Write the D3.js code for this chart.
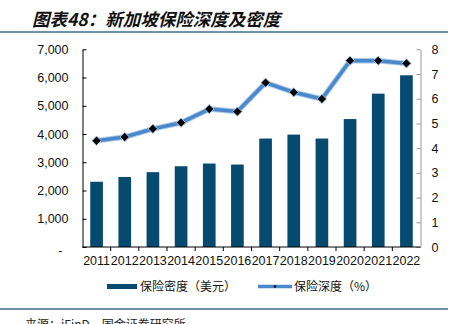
<!DOCTYPE html>
<html><head><meta charset="utf-8">
<script src="https://cdn.jsdelivr.net/npm/d3@7"></script>
<style>body{margin:0;background:#fff}svg{display:block}</style>
</head><body>
<script>
const years = ["2011","2012","2013","2014","2015","2016","2017","2018","2019","2020","2021","2022"];
const density = [2310, 2480, 2650, 2860, 2955, 2920, 3840, 3980, 3840, 4530, 5430, 6080];
const depth = [4.30, 4.45, 4.78, 5.03, 5.58, 5.48, 6.65, 6.26, 5.99, 7.54, 7.54, 7.43];
const leftTicks = [0, 1000, 2000, 3000, 4000, 5000, 6000, 7000];
const rightTicks = [0, 1, 2, 3, 4, 5, 6, 7, 8];
const title = "图表48：新加坡保险深度及密度";
const source = "来源：iFinD，国金证券研究所";
const legendNames = ["保险密度（美元）", "保险深度（%）"];

const W = 460, H = 324;
const svg = d3.select("body").append("svg").attr("width", W).attr("height", H);
const font = "'Liberation Sans', Arial, sans-serif";
const cjk = "'Noto Sans CJK SC', sans-serif";
const barColor = "#074a70", lineColor = "#4a88cc", ruleColor = "#3b6f8e";

// title and rules
svg.append("text").attr("x", 32).attr("y", 26).attr("font-family", cjk)
  .attr("font-size", 17.5).attr("font-weight", "bold").attr("font-style", "italic")
  .attr("fill", "#111").text(title);
svg.append("line").attr("x1", 0).attr("x2", 448).attr("y1", 32).attr("y2", 32)
  .attr("stroke", ruleColor).attr("stroke-width", 1.5);
svg.append("line").attr("x1", 0).attr("x2", 448).attr("y1", 309).attr("y2", 309)
  .attr("stroke", ruleColor).attr("stroke-width", 1.5);
svg.append("text").attr("x", 25).attr("y", 329).attr("font-family", cjk)
  .attr("font-size", 12).attr("fill", "#222").text(source);

const x0 = 82.5, x1 = 420.5, yTop = 49.3, yBot = 247;
const x = d3.scaleBand().domain(years).range([x0, x1]).paddingInner(0.55).paddingOuter(0.275);
const yL = d3.scaleLinear().domain([0, 7000]).range([yBot, yTop]);
const yR = d3.scaleLinear().domain([0, 8]).range([yBot, yTop]);

// bars
svg.append("g").selectAll("rect").data(years).join("rect")
  .attr("x", d => x(d)).attr("width", x.bandwidth())
  .attr("y", (d, i) => yL(density[i])).attr("height", (d, i) => yBot - yL(density[i]))
  .attr("fill", barColor);

// left axis
const gL = svg.append("g").attr("transform", `translate(${x0},0)`)
  .call(d3.axisLeft(yL).tickValues(leftTicks).tickSizeInner(-4).tickSizeOuter(0)
    .tickPadding(14).tickFormat(d => d === 0 ? "-" : d3.format(",")(d)));
gL.select(".domain").attr("stroke", "#000");
gL.selectAll(".tick line").attr("stroke", "#000");
gL.selectAll("text").attr("font-family", font).attr("font-size", 12.5).attr("fill", "#111");
gL.selectAll(".tick").filter(d => d === 0).select("text").attr("dx", -6).attr("dy", "0.6em");

// right axis
const gR = svg.append("g").attr("transform", `translate(${x1},0)`)
  .call(d3.axisRight(yR).tickValues(rightTicks).tickSizeInner(-4).tickSizeOuter(0).tickPadding(11));
gR.select(".domain").attr("stroke", "#999");
gR.selectAll(".tick line").attr("stroke", "#999");
gR.selectAll("text").attr("font-family", font).attr("font-size", 12.5).attr("fill", "#111");

// bottom axis
const gB = svg.append("g").attr("transform", `translate(0,${yBot})`);
gB.append("line").attr("x1", x0).attr("x2", x1).attr("stroke", "#000");
const step = x.step();
gB.selectAll(".tk").data(years.slice(1)).join("line")
  .attr("x1", d => x(d) - (step - x.bandwidth()) / 2).attr("x2", d => x(d) - (step - x.bandwidth()) / 2)
  .attr("y1", 0).attr("y2", 4).attr("stroke", "#000");
gB.selectAll("text").data(years).join("text")
  .attr("x", d => x(d) + x.bandwidth() / 2).attr("y", 18)
  .attr("text-anchor", "middle").attr("font-family", font).attr("font-size", 12.5)
  .attr("fill", "#111").text(d => d);

// line
const line = d3.line().x((d, i) => x(years[i]) + x.bandwidth() / 2).y(d => yR(d));
svg.append("path").datum(depth).attr("d", line).attr("fill", "none")
  .attr("stroke", "#a9c8ea").attr("stroke-width", 5.5).attr("stroke-linejoin", "round");
svg.append("path").datum(depth).attr("d", line).attr("fill", "none")
  .attr("stroke", lineColor).attr("stroke-width", 3.5).attr("stroke-linejoin", "round");
const diamond = d3.symbol().type(d3.symbolDiamond2).size(55);
svg.append("g").selectAll("path").data(depth).join("path")
  .attr("transform", (d, i) => `translate(${x(years[i]) + x.bandwidth() / 2},${yR(d)})`)
  .attr("d", diamond).attr("fill", "#000").attr("stroke", "#a9c8ea").attr("stroke-width", 1);

// legend
const lg = svg.append("g");
lg.append("rect").attr("x", 107).attr("y", 284).attr("width", 30).attr("height", 5).attr("fill", barColor);
lg.append("text").attr("x", 140).attr("y", 291).attr("font-family", cjk).attr("font-size", 12)
  .attr("fill", "#111").text(legendNames[0]);
lg.append("line").attr("x1", 258).attr("x2", 292).attr("y1", 286.5).attr("y2", 286.5)
  .attr("stroke", lineColor).attr("stroke-width", 3.5);
lg.append("circle").attr("cx", 275).attr("cy", 286.5).attr("r", 1.3).attr("fill", "#000");
lg.append("text").attr("x", 294).attr("y", 291).attr("font-family", cjk).attr("font-size", 12)
  .attr("fill", "#111").text(legendNames[1]);
</script>
</body></html>
